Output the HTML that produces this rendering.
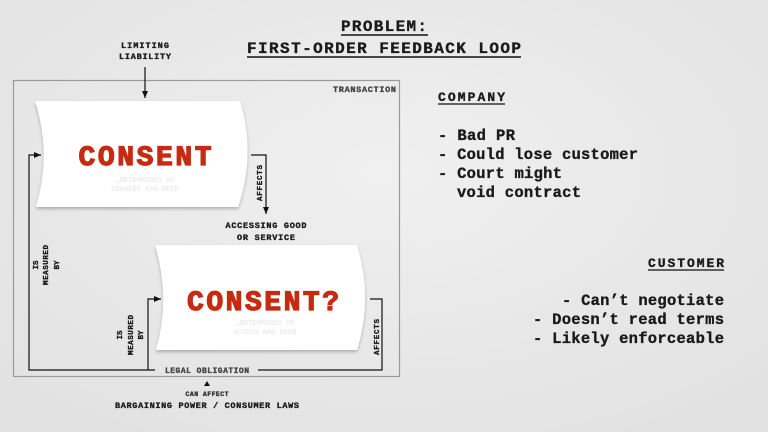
<!DOCTYPE html>
<html><head><meta charset="utf-8"><style>
html,body{margin:0;padding:0;width:768px;height:432px;overflow:hidden;background:#ebebeb}
svg{display:block}
text{font-family:"Liberation Mono","Courier New",monospace;font-weight:bold;fill:#1a1a1a;stroke:#1a1a1a;stroke-width:0.35px}
.r{fill:#c62a10;stroke:#c62a10;stroke-width:1.2px}
.f{fill:#ececec;stroke:none}
</style></head><body>
<svg width="768" height="432" viewBox="0 0 768 432">
<defs>
<radialGradient id="bg" cx="50%" cy="40%" r="70%"><stop offset="0" stop-color="#f0f0f0"/><stop offset="1" stop-color="#e2e2e2"/></radialGradient>
<marker id="ah" markerWidth="8" markerHeight="8" refX="7" refY="4" orient="auto" markerUnits="userSpaceOnUse"><path d="M0,1 L7,4 L0,7 Z" fill="#111"/></marker>
<filter id="sh" x="-10%" y="-10%" width="120%" height="130%"><feDropShadow dx="0" dy="2" stdDeviation="1.5" flood-color="#000" flood-opacity="0.25"/></filter>
</defs>
<rect width="768" height="432" fill="url(#bg)"/>
<text x="384" y="31" text-anchor="middle" font-size="16" textLength="86">PROBLEM:</text>
<line x1="341" y1="35" x2="428" y2="35" stroke="#111" stroke-width="1.5"/>
<text x="384" y="53" text-anchor="middle" font-size="16" textLength="274">FIRST-ORDER FEEDBACK LOOP</text>
<line x1="247" y1="57" x2="521" y2="57" stroke="#111" stroke-width="1.5"/>
<rect x="13.5" y="80.5" width="386" height="296" fill="none" stroke="#9a9a9a" stroke-width="1.2"/>
<text x="396" y="92" text-anchor="end" font-size="8.5" style="fill:#444;stroke:#444" textLength="63">TRANSACTION</text>
<text x="145" y="48" text-anchor="middle" font-size="8.5" textLength="48">LIMITING</text>
<text x="145" y="59" text-anchor="middle" font-size="8.5" textLength="52">LIABILITY</text>
<line x1="145" y1="67" x2="145" y2="98" stroke="#111" stroke-width="1.2" marker-end="url(#ah)"/>
<path d="M35,101 L240,101 Q256,154 238,207 L36,207 Q52,154 35,101 Z" fill="#fff" filter="url(#sh)"/>
<text class="f" x="145" y="182" text-anchor="middle" font-size="7">…DETERMINES IF</text>
<text class="f" x="145" y="191" text-anchor="middle" font-size="7">CONSENT HAS BEEN</text>
<text x="145" y="165" text-anchor="middle" font-size="28" textLength="133" class="r">CONSENT</text>
<path d="M155,245 L357,245 Q373,298 357,350 L156,350 Q171,298 155,245 Z" fill="#fff" filter="url(#sh)"/>
<text class="f" x="265" y="325" text-anchor="middle" font-size="7">…DETERMINES IF</text>
<text class="f" x="265" y="334" text-anchor="middle" font-size="7">ACCESS HAS BEEN</text>
<text x="263" y="310" text-anchor="middle" font-size="28" textLength="152" class="r">CONSENT?</text>
<polyline points="155,370 29,370 29,155 41,155" fill="none" stroke="#111" stroke-width="1.2" marker-end="url(#ah)"/>
<text transform="translate(38,265) rotate(-90)" text-anchor="middle" font-size="7.5">IS</text>
<text transform="translate(48,265) rotate(-90)" text-anchor="middle" font-size="7.5" textLength="40">MEASURED</text>
<text transform="translate(59,265) rotate(-90)" text-anchor="middle" font-size="7.5">BY</text>
<polyline points="148,370 148,299 161,299" fill="none" stroke="#111" stroke-width="1.2" marker-end="url(#ah)"/>
<text transform="translate(122,335) rotate(-90)" text-anchor="middle" font-size="7.5">IS</text>
<text transform="translate(133,335) rotate(-90)" text-anchor="middle" font-size="7.5" textLength="40">MEASURED</text>
<text transform="translate(143,335) rotate(-90)" text-anchor="middle" font-size="7.5">BY</text>
<polyline points="251,155 266,155 266,214" fill="none" stroke="#111" stroke-width="1.2" marker-end="url(#ah)"/>
<text transform="translate(262,183) rotate(-90)" text-anchor="middle" font-size="7.5" textLength="36">AFFECTS</text>
<text x="266" y="228" text-anchor="middle" font-size="8.5" textLength="81">ACCESSING GOOD</text>
<text x="266" y="240" text-anchor="middle" font-size="8.5" textLength="58">OR SERVICE</text>
<polyline points="370,299 382,299 382,370 258,370" fill="none" stroke="#111" stroke-width="1.2"/>
<text transform="translate(379,337) rotate(-90)" text-anchor="middle" font-size="7.5" textLength="36">AFFECTS</text>
<text x="207" y="373" text-anchor="middle" font-size="8" textLength="84" style="fill:#444;stroke:#444">LEGAL OBLIGATION</text>
<path d="M207,381 L210,386 L204,386 Z" fill="#111"/>
<text x="207" y="396" text-anchor="middle" font-size="6.5" textLength="43" style="fill:#333;stroke:#333">CAN AFFECT</text>
<text x="207" y="408" text-anchor="middle" font-size="8.5" textLength="184">BARGAINING POWER / CONSUMER LAWS</text>
<text x="438" y="101" font-size="13" textLength="67">COMPANY</text>
<line x1="438" y1="104" x2="505" y2="104" stroke="#111" stroke-width="1.2"/>
<text x="438" y="140" font-size="15.5" textLength="77" xml:space="preserve">- Bad PR</text>
<text x="438" y="159" font-size="15.5" textLength="200" xml:space="preserve">- Could lose customer</text>
<text x="438" y="178" font-size="15.5" textLength="124" xml:space="preserve">- Court might</text>
<text x="457" y="197" font-size="15.5" textLength="124" xml:space="preserve">void contract</text>
<text x="724" y="267" text-anchor="end" font-size="13" textLength="76">CUSTOMER</text>
<line x1="648" y1="270" x2="724" y2="270" stroke="#111" stroke-width="1.2"/>
<text x="724" y="305" text-anchor="end" font-size="15.5" textLength="162" xml:space="preserve">- Can’t negotiate</text>
<text x="724" y="324" text-anchor="end" font-size="15.5" textLength="191" xml:space="preserve">- Doesn’t read terms</text>
<text x="724" y="343" text-anchor="end" font-size="15.5" textLength="191" xml:space="preserve">- Likely enforceable</text>
</svg>
</body></html>
